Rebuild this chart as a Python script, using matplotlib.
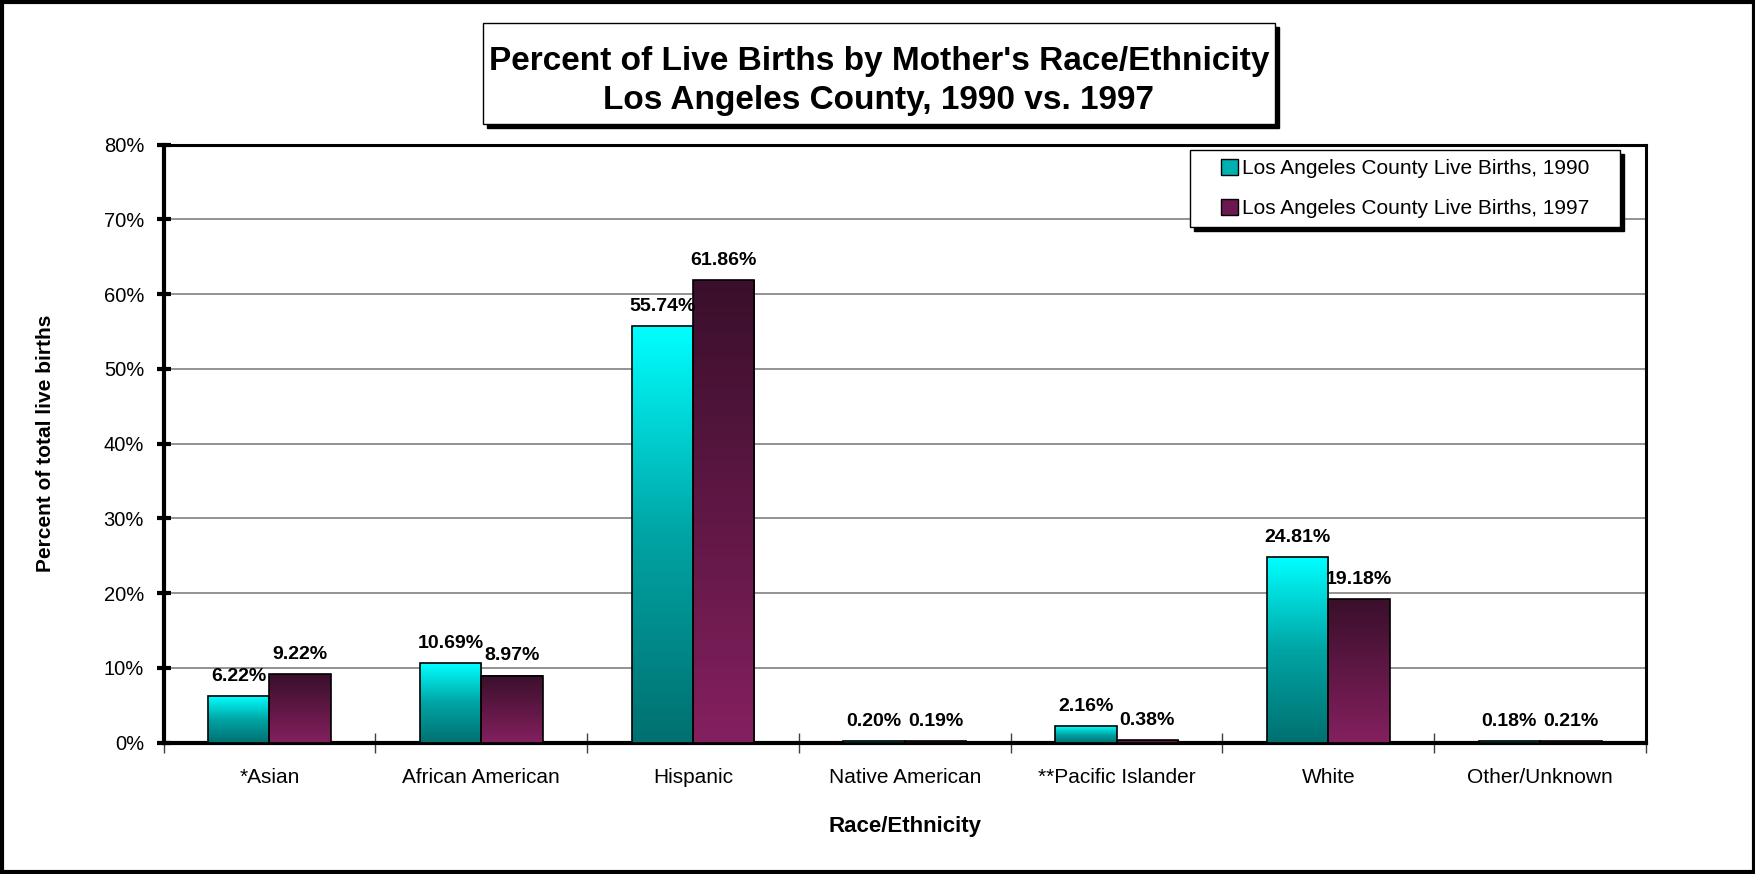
import matplotlib.pyplot as plt
import numpy as np
from matplotlib.colors import LinearSegmentedColormap
from matplotlib.patches import Rectangle, Patch

plt.rcParams['font.family'] = ['Liberation Sans', 'DejaVu Sans']

categories = ['*Asian', 'African American', 'Hispanic', 'Native American',
              '**Pacific Islander', 'White', 'Other/Unknown']
births_1990 = [6.22, 10.69, 55.74, 0.20, 2.16, 24.81, 0.18]
births_1997 = [9.22, 8.97, 61.86, 0.19, 0.38, 19.18, 0.21]
series_names = ['Los Angeles County Live Births, 1990',
                'Los Angeles County Live Births, 1997']

W, H = 1756, 874
fig = plt.figure(figsize=(W / 100, H / 100), dpi=100)
ax = fig.add_axes([163.5 / W, 1 - 742.6 / H, (1646 - 163.5) / W, (742.6 - 144.5) / H])

cmap90 = LinearSegmentedColormap.from_list('c90', ['#007070', '#00a4a4', '#00ffff'])
cmap97 = LinearSegmentedColormap.from_list('c97', ['#84205f', '#3a0f2b'])
grad = np.linspace(0, 1, 256).reshape(-1, 1)

x = np.arange(len(categories))
width = 0.29

bars90 = ax.bar(x - width / 2, births_1990, width, facecolor='none',
                edgecolor='black', linewidth=1.2, zorder=4)
bars97 = ax.bar(x + width / 2, births_1997, width, facecolor='none',
                edgecolor='black', linewidth=1.2, zorder=4)

for rects, cm in [(bars90, cmap90), (bars97, cmap97)]:
    for r in rects:
        ax.imshow(grad, cmap=cm, origin='lower', aspect='auto', zorder=3,
                  extent=[r.get_x(), r.get_x() + r.get_width(), 0, r.get_height()])


def autolabel(rects):
    for rect in rects:
        h = rect.get_height()
        ax.annotate(f'{h:.2f}%',
                    xy=(rect.get_x() + rect.get_width() / 2, h),
                    xytext=(0, 8), textcoords='offset points',
                    ha='center', va='bottom', fontsize=14, fontweight='bold')


autolabel(bars90)
autolabel(bars97)

ax.set_xlim(-0.5, len(categories) - 0.5)
ax.set_ylim(0, 80)
ax.set_yticks(np.arange(0, 81, 10))
ax.set_yticklabels([f'{v}%' for v in range(0, 81, 10)], fontsize=14.5)
ax.yaxis.grid(True, color='#808080', linewidth=1.2, zorder=1)
ax.set_axisbelow(True)
ax.tick_params(axis='y', direction='inout', length=10, width=3, pad=9)

ax.set_xticks(x)
ax.set_xticklabels(categories, fontsize=15)
ax.set_xticks(np.arange(-0.5, len(categories), 1), minor=True)
ax.tick_params(axis='x', which='major', length=0, pad=18)
ax.tick_params(axis='x', which='minor', direction='inout', length=14,
               width=1, color='#404040')

for side in ['left', 'bottom']:
    ax.spines[side].set_linewidth(3)
for side in ['top', 'right']:
    ax.spines[side].set_linewidth(2.2)

ax.set_xlabel('Race/Ethnicity', fontsize=16, fontweight='bold')
ax.set_ylabel('Percent of total live births', fontsize=15, fontweight='bold')
ax.xaxis.set_label_coords(0.5, -0.122)
ax.yaxis.set_label_coords(-0.073, 0.5)

# legend box with shadow, then frameless legend centred in it
lx0, lx1, ly0, ly1 = 1190, 1620, 150, 227
fig.patches.append(Rectangle(((lx0 + 4) / W, 1 - (ly1 + 4) / H), (lx1 - lx0) / W,
                             (ly1 - ly0) / H, transform=fig.transFigure,
                             facecolor='black', edgecolor='black', zorder=5))
fig.patches.append(Rectangle((lx0 / W, 1 - ly1 / H), (lx1 - lx0) / W,
                             (ly1 - ly0) / H, transform=fig.transFigure,
                             facecolor='white', edgecolor='black', linewidth=1, zorder=6))
handles = [Patch(facecolor='#00b0b0', edgecolor='black'),
           Patch(facecolor='#6a1a50', edgecolor='black')]
leg = fig.legend(handles, series_names, loc='center', fontsize=15,
                 bbox_to_anchor=((lx0 + lx1) / 2 / W, 1 - (ly0 + ly1) / 2 / H),
                 frameon=False, handlelength=0.8, handleheight=0.8,
                 handletextpad=0.2, borderpad=0, labelspacing=1.0,
                 borderaxespad=0)
leg.set_zorder(7)

# title box with shadow
tx0, tx1, ty0, ty1 = 483, 1275, 23, 124
fig.patches.append(Rectangle(((tx0 + 4) / W, 1 - (ty1 + 4) / H), (tx1 - tx0) / W,
                             (ty1 - ty0) / H, transform=fig.transFigure,
                             facecolor='black', edgecolor='black', zorder=1))
fig.patches.append(Rectangle((tx0 / W, 1 - ty1 / H), (tx1 - tx0) / W,
                             (ty1 - ty0) / H, transform=fig.transFigure,
                             facecolor='white', edgecolor='black', linewidth=1, zorder=2))
fig.text((tx0 + tx1) / 2 / W, 1 - 81 / H,
         "Percent of Live Births by Mother's Race/Ethnicity\nLos Angeles County, 1990 vs. 1997",
         ha='center', va='center', fontsize=24, fontweight='bold',
         linespacing=1.3, zorder=3)

# outer border
fig.patches.append(Rectangle((0.001, 0.002), 0.998, 0.996, transform=fig.transFigure,
                             fill=False, edgecolor='black', linewidth=3))

fig.savefig('out.png', dpi=100)
